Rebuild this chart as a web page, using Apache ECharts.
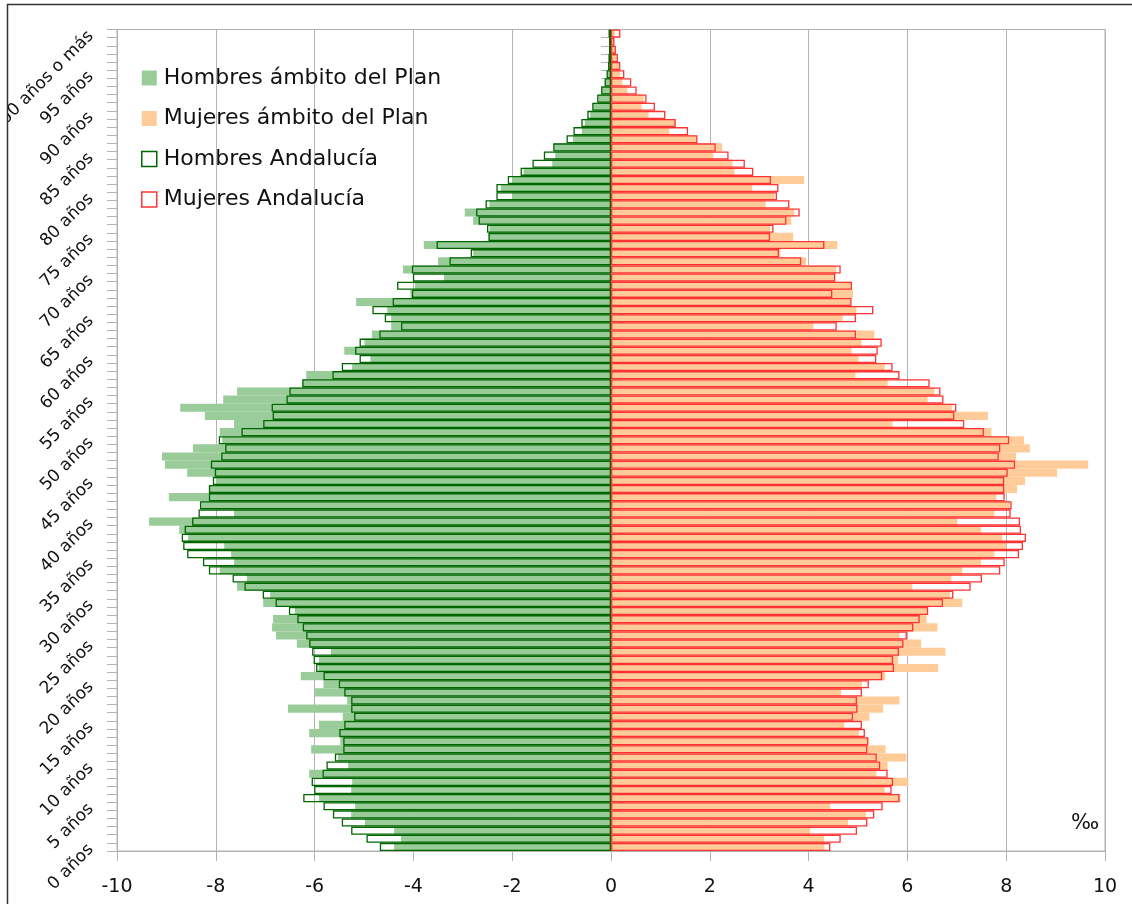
<!DOCTYPE html>
<html>
<head>
<meta charset="utf-8">
<script src="https://cdn.jsdelivr.net/npm/echarts@6/dist/echarts.min.js"></script>
<style>html,body{margin:0;padding:0;background:#fff}#c{width:1132px;height:904px}</style>
</head>
<body>
<div id="c"></div>
<script>
// Categories from top (100 años o más) to bottom (0 años)
var ages = ["100 años o más","99 años","98 años","97 años","96 años","95 años","94 años","93 años","92 años","91 años",
"90 años","89 años","88 años","87 años","86 años","85 años","84 años","83 años","82 años","81 años",
"80 años","79 años","78 años","77 años","76 años","75 años","74 años","73 años","72 años","71 años",
"70 años","69 años","68 años","67 años","66 años","65 años","64 años","63 años","62 años","61 años",
"60 años","59 años","58 años","57 años","56 años","55 años","54 años","53 años","52 años","51 años",
"50 años","49 años","48 años","47 años","46 años","45 años","44 años","43 años","42 años","41 años",
"40 años","39 años","38 años","37 años","36 años","35 años","34 años","33 años","32 años","31 años",
"30 años","29 años","28 años","27 años","26 años","25 años","24 años","23 años","22 años","21 años",
"20 años","19 años","18 años","17 años","16 años","15 años","14 años","13 años","12 años","11 años",
"10 años","9 años","8 años","7 años","6 años","5 años","4 años","3 años","2 años","1 año","0 años"];

var hombresPlan = [-0.03,-0.03,-0.04,-0.05,-0.05,-0.08,-0.12,-0.18,-0.25,-0.36,
-0.42,-0.53,-0.59,-0.77,-1.15,-1.13,-1.19,-1.77,-2.00,-2.23,
-2.00,-2.46,-2.96,-2.79,-2.46,-2.48,-3.79,-2.79,-3.50,-4.21,
-3.38,-3.97,-4.06,-5.16,-4.53,-4.45,-4.45,-4.84,-4.99,-5.40,
-4.87,-5.24,-6.17,-6.25,-7.57,-7.85,-8.72,-8.22,-7.63,-7.92,
-7.87,-8.46,-9.09,-9.03,-8.58,-8.00,-8.14,-8.95,-8.29,-7.63,
-9.35,-8.74,-8.56,-7.83,-7.69,-7.63,-7.92,-7.37,-7.57,-6.90,
-7.04,-6.40,-6.84,-6.86,-6.78,-6.36,-5.67,-5.91,-5.92,-6.28,
-5.82,-5.99,-5.34,-6.54,-5.43,-5.91,-6.11,-5.48,-6.07,-5.53,
-5.32,-6.11,-5.24,-5.26,-5.91,-5.18,-5.26,-4.98,-4.39,-4.25,-4.39];

var mujeresPlan = [0.08,0.06,0.08,0.11,0.18,0.18,0.23,0.33,0.66,0.62,
0.76,1.31,1.18,1.72,2.25,2.07,2.46,2.50,3.91,2.86,
3.31,3.13,3.71,3.65,3.22,3.69,4.58,3.43,3.95,4.56,
4.51,4.88,4.90,4.85,4.97,4.69,4.10,5.33,5.07,4.87,
5.01,5.54,4.95,5.60,6.55,6.41,6.90,7.63,5.70,7.70,
8.36,8.48,8.20,9.66,9.03,8.38,8.22,7.80,8.07,7.76,
7.01,7.49,7.92,8.00,7.76,7.49,7.11,6.89,6.10,6.86,
7.11,6.42,6.39,6.61,5.84,6.28,6.77,5.81,6.62,5.55,
5.08,4.66,5.84,5.51,5.23,4.72,5.02,5.21,5.56,5.98,
5.60,5.37,6.02,5.54,5.86,4.44,5.16,4.80,4.03,4.31,4.32];

var hombresAndalucia = [-0.05,-0.04,-0.04,-0.05,-0.06,-0.09,-0.13,-0.20,-0.28,-0.38,
-0.48,-0.60,-0.76,-0.90,-1.17,-1.36,-1.59,-1.83,-2.09,-2.32,
-2.32,-2.54,-2.73,-2.68,-2.51,-2.48,-3.53,-2.84,-3.27,-4.03,
-4.01,-4.33,-4.03,-4.42,-4.83,-4.58,-4.25,-4.69,-5.09,-5.18,
-5.09,-5.45,-5.64,-6.25,-6.51,-6.57,-6.87,-6.85,-7.04,-7.48,
-7.94,-7.81,-7.89,-8.10,-8.02,-8.06,-8.14,-8.14,-8.32,-8.35,
-8.48,-8.63,-8.69,-8.66,-8.58,-8.26,-8.14,-7.66,-7.42,-7.05,
-6.79,-6.52,-6.35,-6.24,-6.17,-6.11,-6.05,-6.02,-5.97,-5.82,
-5.51,-5.40,-5.26,-5.26,-5.20,-5.40,-5.50,-5.42,-5.42,-5.59,
-5.76,-5.84,-6.06,-6.01,-6.23,-5.82,-5.63,-5.45,-5.26,-4.95,-4.68];

var mujeresAndalucia = [0.19,0.07,0.10,0.14,0.19,0.27,0.41,0.52,0.72,0.89,
1.10,1.31,1.56,1.75,2.12,2.38,2.71,2.88,3.24,3.39,
3.36,3.61,3.82,3.55,3.29,3.22,4.32,3.40,3.85,4.65,
4.54,4.88,4.48,4.87,5.31,4.96,4.57,4.96,5.48,5.40,
5.37,5.70,5.84,6.45,6.67,6.73,6.99,6.95,7.15,7.55,
8.06,7.88,7.85,8.18,8.03,7.96,7.96,7.97,8.11,8.09,
8.28,8.30,8.40,8.34,8.26,7.97,7.88,7.51,7.28,6.93,
6.72,6.42,6.25,6.12,5.99,5.92,5.83,5.71,5.73,5.49,
5.22,5.08,4.98,4.99,4.90,5.08,5.14,5.21,5.19,5.38,
5.45,5.60,5.71,5.68,5.84,5.50,5.33,5.19,4.98,4.65,4.44];

var xTicks = {min: -10, max: 10, interval: 2};
var seriesNames = ["Hombres ámbito del Plan","Mujeres ámbito del Plan","Hombres Andalucía","Mujeres Andalucía"];

var GREEN_FILL = '#99cc99', ORANGE_FILL = '#ffcc99', GREEN_LINE = '#006600', RED_LINE = '#ff3333', GRID = '#b3b3b3';
var FONT = 'DejaVu Sans';

var chart = echarts.init(document.getElementById('c'), null, {renderer: 'canvas'});
chart.setOption({
  animation: false,
  backgroundColor: '#fff',
  textStyle: {fontFamily: FONT},
  grid: {left: 117, right: 27, top: 29.5, bottom: 53, show: true, borderColor: GRID, borderWidth: 1,
         containLabel: false, outerBoundsMode: 'none'},
  legend: {
    orient: 'vertical', left: 136, top: 62, itemWidth: 15, itemHeight: 15, itemGap: 18.5,
    textStyle: {fontSize: 22, color: '#111', fontFamily: FONT, padding: [0, 0, 0, 2]},
    data: [
      {name: seriesNames[0], icon: 'rect', itemStyle: {color: GREEN_FILL, borderWidth: 0}},
      {name: seriesNames[1], icon: 'rect', itemStyle: {color: ORANGE_FILL, borderWidth: 0}},
      {name: seriesNames[2], icon: 'rect', itemStyle: {color: '#fff', borderColor: GREEN_LINE, borderWidth: 1.5}},
      {name: seriesNames[3], icon: 'rect', itemStyle: {color: '#fff', borderColor: RED_LINE, borderWidth: 1.5}}
    ],
    selectedMode: false
  },
  xAxis: {
    type: 'value', min: xTicks.min, max: xTicks.max, interval: xTicks.interval,
    axisLine: {show: true, lineStyle: {color: GRID}},
    axisTick: {show: true, length: 10, lineStyle: {color: GRID}},
    splitLine: {show: true, lineStyle: {color: GRID, width: 1}},
    axisLabel: {fontSize: 19, color: '#111', margin: 27, fontFamily: FONT}
  },
  yAxis: [{
    type: 'category', data: ages, inverse: true, position: 'left',
    axisLine: {show: false, onZero: false},
    axisTick: {show: true, interval: 0, length: 10, lineStyle: {color: GRID}},
    axisLabel: {interval: 4, rotate: 45, fontSize: 17, color: '#111', margin: 26, fontFamily: FONT},
    splitLine: {show: false}
  }, {
    type: 'category', data: ages, inverse: true, position: 'left',
    axisLine: {show: true, onZero: true, lineStyle: {color: GRID}},
    axisTick: {show: true, interval: 0, length: 10, lineStyle: {color: GRID}},
    axisLabel: {show: false},
    splitLine: {show: false}
  }],
  series: [
    {name: seriesNames[0], type: 'bar', data: hombresPlan, barGap: '-100%', barCategoryGap: '0%', z: 2,
     itemStyle: {color: GREEN_FILL}, emphasis: {disabled: true}},
    {name: seriesNames[1], type: 'bar', data: mujeresPlan, barGap: '-100%', barCategoryGap: '0%', z: 2,
     itemStyle: {color: ORANGE_FILL}, emphasis: {disabled: true}},
    {name: seriesNames[2], type: 'bar', data: hombresAndalucia, barGap: '-100%', barCategoryGap: '0%', z: 3,
     itemStyle: {color: 'rgba(255,255,255,0)', borderColor: GREEN_LINE, borderWidth: 1.3}, emphasis: {disabled: true}},
    {name: seriesNames[3], type: 'bar', data: mujeresAndalucia, barGap: '-100%', barCategoryGap: '0%', z: 4,
     itemStyle: {color: 'rgba(255,255,255,0)', borderColor: RED_LINE, borderWidth: 1.3}, emphasis: {disabled: true}}
  ],
  graphic: [
    {type: 'text', left: 1071, top: 813, style: {text: '‰', fontSize: 21, fill: '#111', fontFamily: FONT}, z: 10},
    {type: 'rect', shape: {x: 0, y: 0, width: 7, height: 904}, style: {fill: '#fff'}, z: 20, silent: true},
    {type: 'rect', shape: {x: 0, y: 0, width: 1132, height: 4}, style: {fill: '#fff'}, z: 20, silent: true},
    {type: 'rect', shape: {x: 7.5, y: 4.5, width: 1200, height: 1000}, style: {fill: 'none', stroke: '#333', lineWidth: 1.5}, z: 21, silent: true}
  ]
});
</script>
</body>
</html>
